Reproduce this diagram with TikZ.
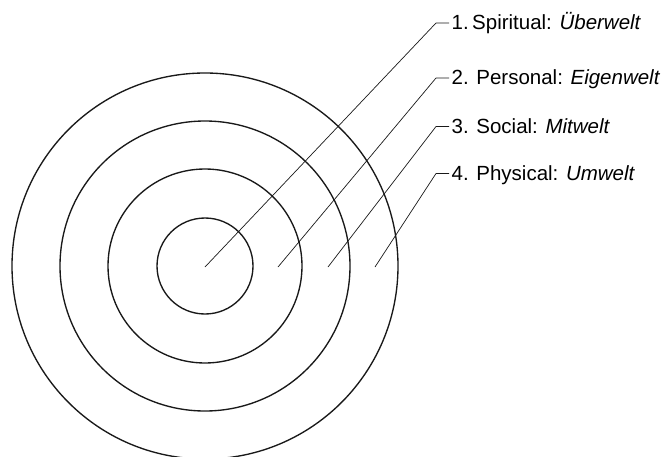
\documentclass[tikz,border=0pt]{standalone}
\usepackage{fontspec}
\setmainfont{Liberation Sans}
\usepackage{tikz}
\usetikzlibrary{positioning}

\begin{document}
\begin{tikzpicture}[x=1pt, y=-1pt,
    every node/.style={font=\fontsize{20.5}{24}\selectfont},
    ring/.style={line width=1.35pt, black!90},
    leader/.style={line width=0.7pt, black!90},
    lbl/.style={anchor=base west, inner sep=2.5pt}]
  \useasboundingbox (0,0) rectangle (665,456);
  \def\bx{436} \def\ty{267}
  \coordinate (c) at (205,266);
  \foreach \r in {48,97,145,193}
    \draw[ring] (c) circle[radius=\r pt];
  % labels
  \node[lbl] (l1) at (449,29.5) {1.\,Spiritual: \textit{Überwelt}};
  \node[lbl] (l2) at (449,84.5) {2. Personal: \textit{Eigenwelt}};
  \node[lbl] (l3) at (449,133) {3. Social: \textit{Mitwelt}};
  \node[lbl] (l4) at (449,180) {4. Physical: \textit{Umwelt}};
  \coordinate (b1) at (\bx,23);
  \coordinate (b2) at (\bx,78);
  \coordinate (b3) at (\bx,126.5);
  \coordinate (b4) at (\bx,173.5);
  \coordinate (p1) at (205,\ty);
  \coordinate (p2) at (278,\ty);
  \coordinate (p3) at (328,\ty);
  \coordinate (p4) at (375,\ty);
  \draw[leader] (p1) -- (b1) -- (b1 -| l1.west);
  \draw[leader] (p2) -- (b2) -- (b2 -| l2.west);
  \draw[leader] (p3) -- (b3) -- (b3 -| l3.west);
  \draw[leader] (p4) -- (b4) -- (b4 -| l4.west);
\end{tikzpicture}
\end{document}
